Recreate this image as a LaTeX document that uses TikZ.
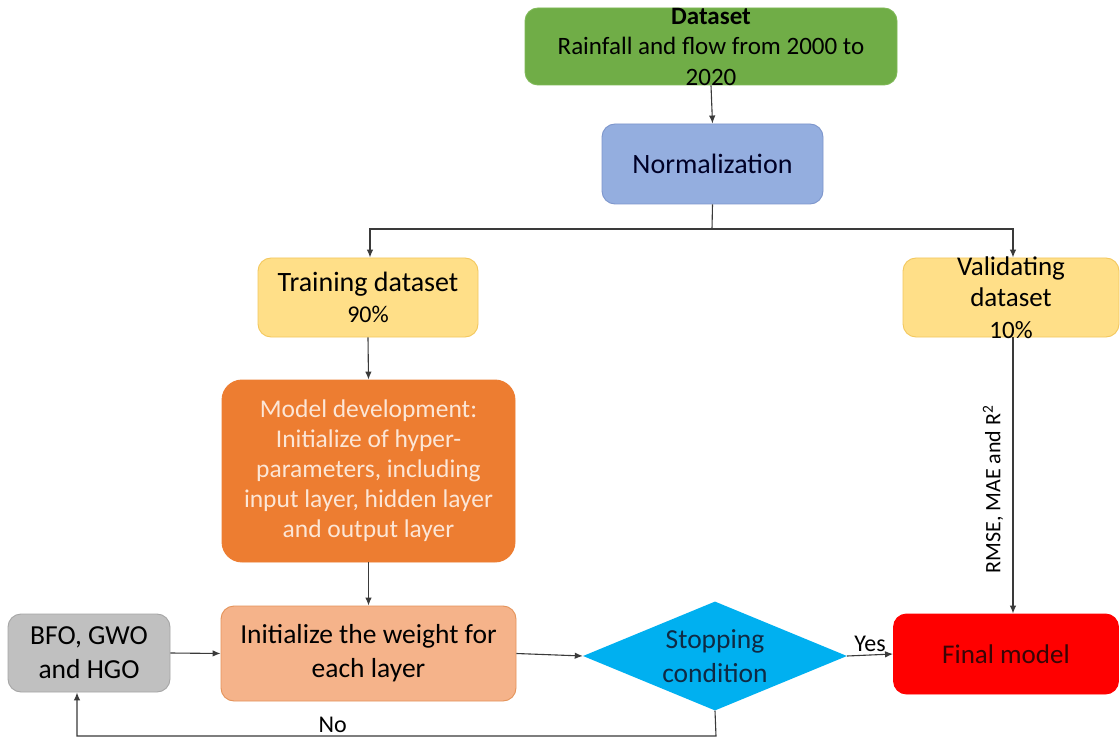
\documentclass[tikz,border=0pt]{standalone}
\usepackage{fontspec}
\setmainfont{Carlito}
\usetikzlibrary{shapes.geometric,arrows.meta}
\definecolor{dsgreen}{HTML}{70AD47}
\definecolor{dsgreenb}{HTML}{7FB957}
\definecolor{normfill}{HTML}{94AEDF}
\definecolor{normb}{HTML}{7D96CC}
\definecolor{yelfill}{HTML}{FFDF88}
\definecolor{yelb}{HTML}{F3C85E}
\definecolor{mdfill}{HTML}{ED7D31}
\definecolor{mdtext}{HTML}{FCE6D6}
\definecolor{initfill}{HTML}{F5B38A}
\definecolor{initb}{HTML}{E4935A}
\definecolor{grayfill}{HTML}{C0C0C0}
\definecolor{grayb}{HTML}{A6A6A6}
\definecolor{diafill}{HTML}{00B0F0}
\definecolor{diatext}{HTML}{0F2A44}
\definecolor{finalfill}{HTML}{FF0000}
\definecolor{finaltext}{HTML}{3A0505}
\definecolor{linec}{HTML}{3A3A3A}
\tikzset{
  box/.style={rectangle, rounded corners=13pt, inner sep=0pt, align=center, line width=0.9pt},
  arr/.style={draw=linec, line width=1.1pt, -{Latex[length=8pt,width=6.5pt]}},
  ln/.style={draw=linec, line width=1.1pt},
  lbl/.style={font=\fontsize{22}{26}\selectfont, text=black, inner sep=2pt},
  yn/.style={font=\fontsize{24}{28}\selectfont, text=black, inner sep=2pt}
}
\begin{document}
\begin{tikzpicture}[x=1pt,y=-1pt]
\useasboundingbox (0,0) rectangle (1120,738);
\fill[white] (0,0) rectangle (1120,738);

\node[box, fill=dsgreen, draw=dsgreenb, minimum width=372pt, minimum height=77pt,
  label={[align=center, font=\fontsize{25}{30.5}\selectfont, text=black]center:{\textbf{Dataset}\\Rainfall and flow from 2000 to\\2020}}]
  (ds) at (711,46.5) {};

\node[box, fill=normfill, draw=normb, minimum width=221pt, minimum height=80pt,
  font=\fontsize{28}{34}\selectfont, text=black!85!blue] (norm) at (712.5,164) {Normalization};

\node[box, fill=yelfill, draw=yelb, minimum width=220pt, minimum height=79pt,
  font=\fontsize{28}{31}\selectfont, text=black] (train) at (368,297.5)
  {Training dataset\\{\fontsize{24}{28}\selectfont 90\%}};

\node[box, fill=yelfill, draw=yelb, minimum width=216pt, minimum height=79pt,
  label={[align=center, font=\fontsize{27}{31.5}\selectfont, text=black]center:{Validating\\dataset\\{\fontsize{25}{28}\selectfont 10\%}}}]
  (val) at (1011,297.5) {};

\node[box, rounded corners=20pt, fill=mdfill, draw=mdfill, minimum width=293pt, minimum height=182pt,
  font=\fontsize{25.5}{30}\selectfont, text=mdtext] (md) at (368.5,471)
  {Model development:\\Initialize of hyper-\\parameters, including\\input layer, hidden layer\\and output layer};

\node[box, fill=initfill, draw=initb, minimum width=295pt, minimum height=95pt,
  font=\fontsize{27.5}{34}\selectfont, text=black] (init) at (368.5,653.5)
  {Initialize the weight for\\each layer};

\node[box, fill=grayfill, draw=grayb, minimum width=162pt, minimum height=78pt,
  font=\fontsize{27.5}{34}\selectfont, text=black] (bfo) at (89,653)
  {BFO, GWO\\and HGO};

\node[diamond, aspect=2.42, fill=diafill, inner sep=0pt, minimum width=264pt, minimum height=109pt, align=center,
  font=\fontsize{27.5}{34}\selectfont, text=diatext] (dia) at (715,656)
  {Stopping\\condition};

\node[box, fill=finalfill, draw=finalfill, minimum width=225pt, minimum height=80pt,
  font=\fontsize{27}{32}\selectfont, text=finaltext] (final) at (1006,654)
  {Final model};

\coordinate (sp) at (712,229);
\coordinate (lp) at (716,736);

\draw[arr] (ds.south) -- (norm.north);
\draw[ln] (norm.south) -- (sp);
\draw[arr] (sp) -| ([xshift=2pt]train.north);
\draw[arr] (sp) -| ([xshift=2pt]val.north);
\draw[arr] (train.south) -- (md.north);
\draw[arr] ([xshift=2pt]val.south) -- ([xshift=2pt]val.south |- final.north)
  node[pos=0.55, xshift=-20pt, rotate=90, lbl] {RMSE, MAE and R\textsuperscript{2}};
\draw[arr] (md.south) -- (init.north);
\draw[arr] (bfo.east) -- (init.west);
\draw[arr] (init.east) -- (dia.west);
\draw[arr] (dia.east) -- (final.west) node[midway, above, yn, yshift=1pt] {Yes};
\draw[arr] (dia.south) -- (lp) -| ([xshift=-12pt]bfo.south)
  node[pos=0.3, above, yn, yshift=1pt] {No};
\end{tikzpicture}
\end{document}
